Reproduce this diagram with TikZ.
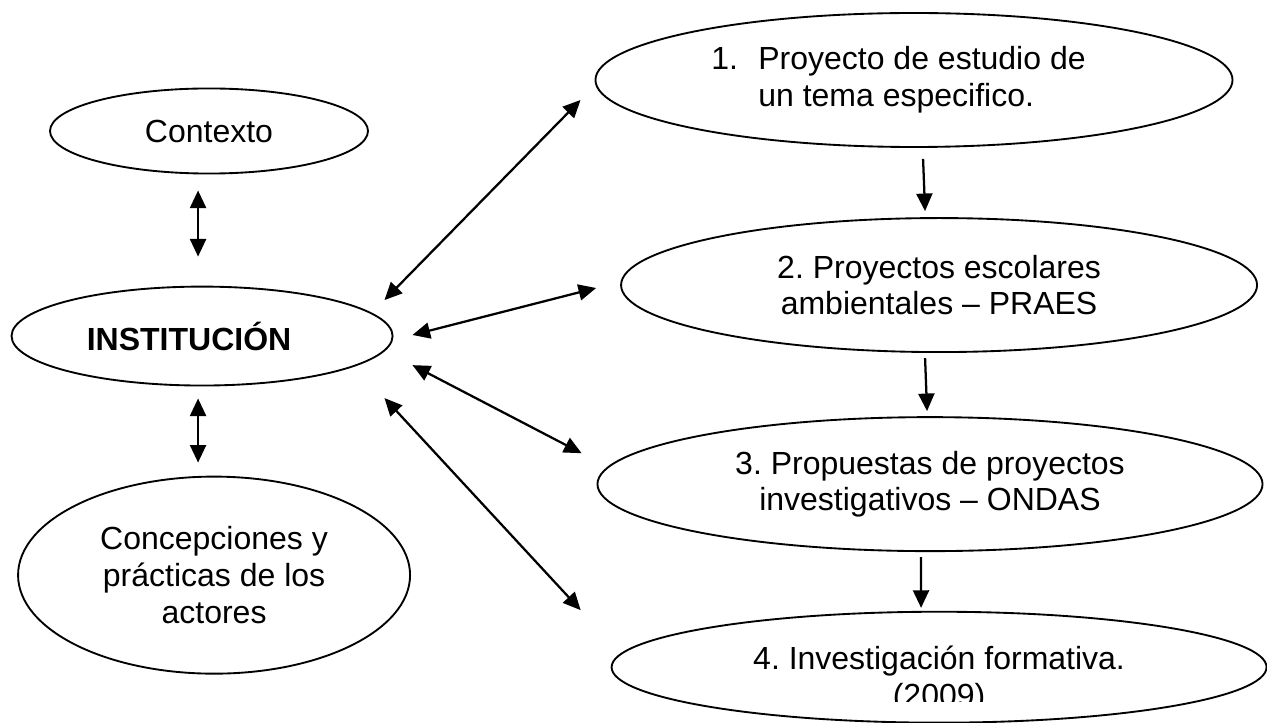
\documentclass[tikz,border=0pt]{standalone}
\usepackage{fontspec}
\setmainfont{Liberation Sans}
\frenchspacing
\usepackage{tikz}
\usetikzlibrary{shapes.geometric, arrows.meta, positioning, calc}
\tikzstyle{bubble} = [ellipse, draw=black, line width=0.7pt, inner sep=0pt, align=center, font=\fontsize{12}{13.8}\selectfont]
\tikzstyle{bubbletext} = [inner sep=0pt, align=center, font=\fontsize{12}{13.8}\selectfont]
\tikzstyle{arrow} = [line width=0.85pt, -{Triangle[length=6.6pt, width=6pt]}]
\tikzstyle{dblarrow} = [line width=0.85pt, {Triangle[length=6.6pt, width=6pt]}-{Triangle[length=6.6pt, width=6pt]}]

\begin{document}
\begin{tikzpicture}[x=0.375pt, y=-0.375pt, node distance=76.9pt]
\useasboundingbox (0,0) rectangle (1267,723);

% left column
\node (ctx) [bubble, minimum width=119.25pt, minimum height=31.9pt] at (209,131) {Contexto};
\node (inst) [bubble, below of=ctx, xshift=-2.6pt, minimum width=142.9pt, minimum height=37.1pt] {\textbf{INSTITUCIÓN}\hspace*{9.75pt}};
\node (conc) [bubble, below of=inst, yshift=-12.75pt, xshift=4.5pt, minimum width=147pt, minimum height=73.9pt] {Concepciones y\\prácticas de los\\actores};

% right column
\node (p1) [bubble, align=left, minimum width=238.9pt, minimum height=50.25pt] at (914,80) {\makebox[17.6pt][l]{1.}Proyecto de estudio de\hspace*{11.6pt}\\\hspace*{17.6pt}un tema especifico.};
\node (p2) [bubble, below of=p1, xshift=9.4pt, minimum width=238.5pt, minimum height=50.25pt] {2. Proyectos escolares\\ambientales -- PRAES};
\node (p3) [bubble, below of=p2, yshift=2.25pt, xshift=-3.4pt, minimum width=249.4pt, minimum height=50.25pt] {3. Propuestas de proyectos\\investigativos -- ONDAS};
\node (p4) [bubble, below of=p3, yshift=8.25pt, xshift=3.4pt, minimum width=245.6pt, minimum height=41.6pt] {};
\begin{scope}
\clip (0,0) rectangle (1267,701);
\node (p4txt) [bubbletext, yshift=-4.5pt] at (p4) {4. Investigación formativa.\\(2009)};
\end{scope}

% Arrows
\draw [dblarrow] ([xshift=-4.1pt, yshift=-6pt]ctx.south) -- ([xshift=-1.5pt, yshift=10.9pt]inst.north);
\draw [dblarrow] ([xshift=-1.5pt, yshift=-4.5pt]inst.south) -- ([xshift=-6pt, yshift=4.9pt]conc.north);
\draw [arrow] ([xshift=3.4pt, yshift=-4.1pt]p1.south) -- ([xshift=-5.25pt, yshift=2.25pt]p2.north);
\draw [arrow] ([xshift=-5.25pt, yshift=-1.9pt]p2.south) -- ([xshift=-1.1pt, yshift=1.9pt]p3.north);
\draw [arrow] ([xshift=-3.4pt, yshift=-1.9pt]p3.south) -- ([xshift=-6.75pt, yshift=1.1pt]p4.north);
\draw [dblarrow] ([xshift=-3.4pt, yshift=13.5pt]inst.east) -- ([xshift=-5.25pt, yshift=-7.5pt]p1.west);
\draw [dblarrow] ([xshift=7.1pt, yshift=0.4pt]inst.east) -- ([xshift=-9pt, yshift=-1.1pt]p2.west);
\draw [dblarrow] ([xshift=7.1pt, yshift=-10.9pt]inst.east) -- ([xshift=-5.6pt, yshift=11.6pt]p3.west);
\draw [dblarrow] ([xshift=-3.4pt, yshift=-23.25pt]inst.east) -- ([xshift=-11.25pt, yshift=21.4pt]p4.west);

\end{tikzpicture}
\end{document}
